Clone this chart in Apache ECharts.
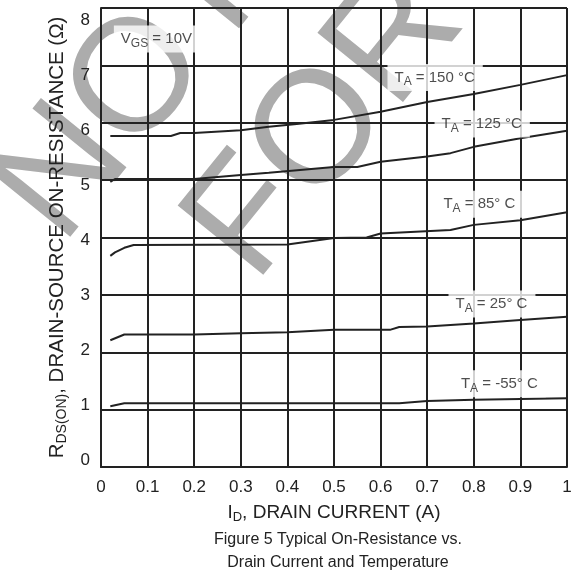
<!DOCTYPE html>
<html>
<head>
<meta charset="utf-8">
<script src="https://cdn.jsdelivr.net/npm/echarts@6/dist/echarts.min.js"></script>
<style>
  html, body { margin: 0; padding: 0; background: #fff; }
  #chart { width: 579px; height: 578px; }
</style>
</head>
<body>
<div id="chart"></div>
<script>
// drain current (A) -> on-resistance (ohm)
const t150 = [[0.02,5.77],[0.15,5.77],[0.17,5.82],[0.2,5.82],[0.3,5.87],[0.36,5.93],[0.42,5.98],[0.5,6.05],[0.6,6.19],[0.7,6.36],[0.8,6.5],[0.9,6.66],[1.0,6.83]]
const t125 = [[0.02,4.97],[0.03,5.02],[0.2,5.02],[0.3,5.09],[0.36,5.13],[0.5,5.23],[0.55,5.23],[0.6,5.32],[0.7,5.41],[0.75,5.47],[0.8,5.58],[0.9,5.73],[1.0,5.86]]
const t85 = [[0.02,3.68],[0.03,3.74],[0.05,3.82],[0.07,3.87],[0.4,3.88],[0.5,3.99],[0.57,4.0],[0.6,4.07],[0.75,4.13],[0.8,4.22],[0.9,4.3],[1.0,4.44]]
const t25 = [[0.02,2.21],[0.05,2.31],[0.2,2.31],[0.3,2.33],[0.4,2.35],[0.5,2.39],[0.62,2.39],[0.64,2.44],[0.7,2.45],[0.8,2.5],[0.9,2.56],[1.0,2.62]]
const tm55 = [[0.02,1.06],[0.05,1.11],[0.64,1.11],[0.7,1.15],[0.8,1.17],[1.0,1.2]]
const seriesNames = ['150','125','85','25','-55']
const curveLabels = [
  {text:'V{sub|GS} = 10V', at:[0.12,7.46]},
  {text:'T{sub|A} = 150 °C', at:[0.717,6.79]},
  {text:'T{sub|A} = 125 °C', at:[0.818,5.98]},
  {text:'T{sub|A} = 85° C', at:[0.813,4.58]},
  {text:'T{sub|A} = 25° C', at:[0.839,2.84]},
  {text:'T{sub|A} = -55° C', at:[0.856,1.45]}
]
const xTicks = ['0','0.1','0.2','0.3','0.4','0.5','0.6','0.7','0.8','0.9','1']
const yTicks = [0,1,2,3,4,5,6,7,8]
const watermark = ['NOT','FOR']
const captionLines = ['Figure 5 Typical On-Resistance vs.','Drain Current and Temperature']

const ink = '#222'
const font = 'Liberation Sans, Arial, sans-serif'
const sub = {fontSize:11, fontFamily:font, color:ink, padding:[9,0,0,0]}

const chart = echarts.init(document.getElementById('chart'))
const curves = [t150,t125,t85,t25,tm55].map((d,i)=>({
  name: seriesNames[i], type:'line', data:d, symbol:'none', smooth:false,
  lineStyle:{color:ink, width:2}, z:3
}))
curves.push({
  name:'labels', type:'scatter', symbolSize:0, z:4,
  data: curveLabels.map(l=>({value:l.at, text:l.text})),
  label:{show:true, position:'inside', formatter:p=>p.data.text,
    backgroundColor:'#fff', padding:[3,8,3,7], color:ink, fontSize:15, fontFamily:font,
    rich:{sub:{...sub, fontSize:12}}}
})

const axisFrame = {
  axisLine:{show:true, lineStyle:{color:ink, width:2}},
  axisTick:{show:false},
  splitLine:{show:true, lineStyle:{color:ink, width:2}}
}

chart.setOption({
  animation:false,
  grid:{left:101, right:12, top:8, bottom:111},
  xAxis:{type:'value', min:0, max:1, interval:0.1, ...axisFrame,
    axisLabel:{color:ink, fontSize:17, fontFamily:font, margin:12,
      formatter:(v)=>xTicks[Math.round(v*10)]},
    name:'I{sub|D}, DRAIN CURRENT (A)', nameLocation:'middle', nameGap:35,
    nameTextStyle:{color:ink, fontSize:19, fontFamily:font, rich:{sub:{...sub, fontSize:13}}}
  },
  yAxis:[{type:'value', min:0, max:8, interval:1, ...axisFrame,
    axisLabel:{show:false},
    name:'R{sub|DS(ON)}, DRAIN-SOURCE ON-RESISTANCE (Ω)', nameLocation:'middle', nameGap:32, nameRotate:90,
    nameTextStyle:{color:ink, fontSize:20.5, fontFamily:font, rich:{sub:{...sub, fontSize:14}}}
  },{
    // tick labels in the figure sit on a slightly shorter scale than the grid
    type:'value', min:-0.127, max:8.218, position:'left',
    axisLine:{show:false}, axisTick:{show:false}, splitLine:{show:false},
    axisLabel:{color:ink, fontSize:17, fontFamily:font, margin:11, customValues:yTicks}
  }],
  graphic:[
    {type:'text', z:-10, silent:true, x:134, y:88, rotation:51*Math.PI/180,
      style:{text:watermark[0], fill:'#acacac', font:'160px '+font, textAlign:'center', textVerticalAlign:'middle'}},
    {type:'text', z:-10, silent:true, x:327, y:126, rotation:51*Math.PI/180,
      style:{text:watermark[1], fill:'#acacac', font:'160px '+font, textAlign:'center', textVerticalAlign:'middle'}},
    {type:'text', x:338, y:540, style:{text:captionLines[0], fill:ink, font:'16px '+font, textAlign:'center', textVerticalAlign:'middle'}},
    {type:'text', x:338, y:563, style:{text:captionLines[1], fill:ink, font:'16px '+font, textAlign:'center', textVerticalAlign:'middle'}}
  ],
  series:curves
})
</script>
</body>
</html>
